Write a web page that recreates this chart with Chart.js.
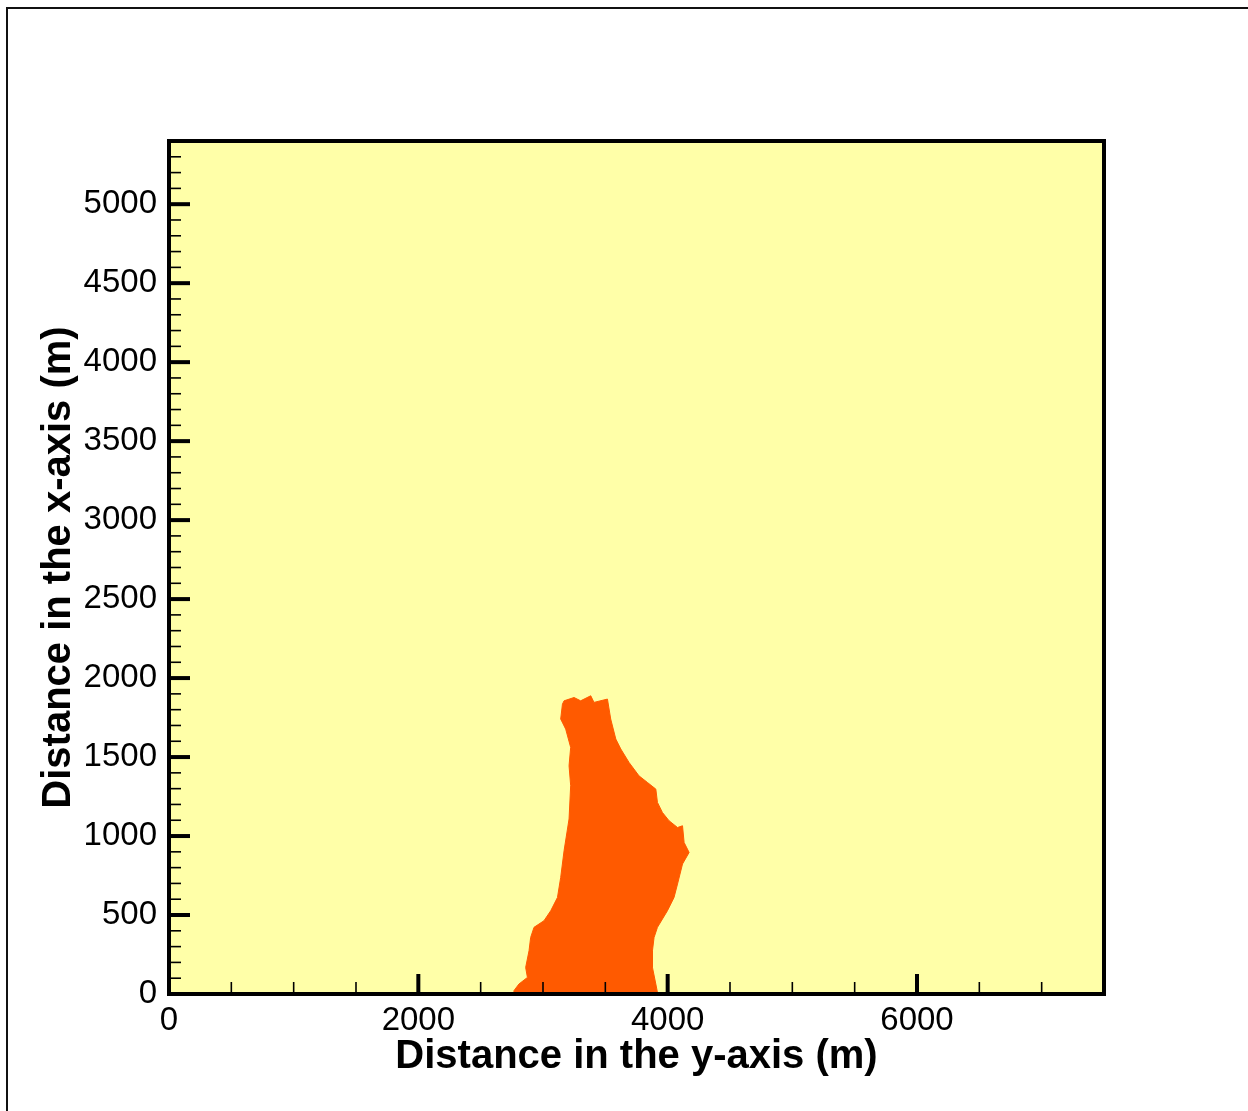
<!DOCTYPE html>
<html>
<head>
<meta charset="utf-8">
<script src="https://cdn.jsdelivr.net/npm/chart.js@4/dist/chart.umd.min.js"></script>
<style>
  html, body { margin: 0; padding: 0; background: #ffffff; }
  #wrap { width: 1248px; height: 1111px; }
</style>
</head>
<body>
<div id="wrap"><canvas id="c" width="1248" height="1111"></canvas></div>
<script>
// Outline of the orange region (x = distance along y-axis, y = distance along x-axis), metres
const shapeX = [2760, 2767, 2807, 2875, 2861, 2888, 2901, 2928, 3008, 3062, 3116, 3142, 3169, 3209, 3222, 3209, 3222, 3182, 3142, 3156, 3169, 3249, 3302, 3383, 3409, 3517, 3543, 3584, 3624, 3690, 3770, 3838, 3905, 3918, 3958, 4011, 4079, 4119, 4132, 4172, 4119, 4079, 4051, 3998, 3918, 3891, 3878, 3878, 3905, 3918, 3920, 2760];
const shapeY = [0, 21, 63, 105, 168, 274, 358, 422, 464, 527, 611, 738, 907, 1108, 1319, 1445, 1561, 1677, 1741, 1835, 1856, 1877, 1856, 1888, 1846, 1867, 1741, 1614, 1551, 1466, 1381, 1339, 1297, 1213, 1149, 1097, 1054, 1065, 959, 896, 823, 696, 611, 527, 422, 358, 274, 168, 63, 10, 0, 0];

const xRange = [0, 7500];
const yRange = [0, 5400];
const xLabelledTicks = [0, 2000, 4000, 6000];
const yLabelledTicks = [0, 500, 1000, 1500, 2000, 2500, 3000, 3500, 4000, 4500, 5000];
const xMinorStep = 500;
const yMinorStep = 100;

const xTitle = 'Distance in the y-axis (m)';
const yTitle = 'Distance in the x-axis (m)';

const points = shapeX.map((x, i) => ({ x: x, y: shapeY[i] }));

const FONT = "'Liberation Sans', Arial, sans-serif";
const BG = '#FFFFA8';
const ORANGE = '#FF5A00';

const framePlugin = {
  id: 'framePlugin',
  beforeDraw(chart) {
    const ctx = chart.ctx;
    const a = chart.chartArea;
    ctx.save();
    ctx.strokeStyle = '#111';
    ctx.lineWidth = 2;
    ctx.beginPath();
    ctx.moveTo(7, 1200);
    ctx.lineTo(7, 8);
    ctx.lineTo(1300, 8);
    ctx.stroke();
    ctx.fillStyle = BG;
    ctx.fillRect(a.left, a.top, a.right - a.left, a.bottom - a.top);
    ctx.restore();
  },
  afterDatasetsDraw(chart) {
    const ctx = chart.ctx;
    const a = chart.chartArea;
    const xs = chart.scales.x, ys = chart.scales.y;
    ctx.save();
    ctx.strokeStyle = '#000';
    xs.ticks.forEach(t => {
      const major = xLabelledTicks.includes(t.value);
      const px = xs.getPixelForValue(t.value);
      ctx.lineWidth = major ? 4 : 1.6;
      ctx.beginPath();
      ctx.moveTo(px, a.bottom);
      ctx.lineTo(px, a.bottom - (major ? 20 : 12));
      ctx.stroke();
    });
    ys.ticks.forEach(t => {
      const major = yLabelledTicks.includes(t.value);
      const py = ys.getPixelForValue(t.value);
      ctx.lineWidth = major ? 4 : 1.6;
      ctx.beginPath();
      ctx.moveTo(a.left, py);
      ctx.lineTo(a.left + (major ? 21 : 12), py);
      ctx.stroke();
    });
    ctx.lineWidth = 4;
    ctx.strokeRect(a.left, a.top, a.right - a.left, a.bottom - a.top);
    ctx.restore();
  }
};

new Chart(document.getElementById('c'), {
  type: 'scatter',
  data: {
    datasets: [{
      data: points,
      showLine: true,
      fill: 'shape',
      tension: 0,
      pointRadius: 0,
      borderWidth: 1,
      borderColor: ORANGE,
      backgroundColor: ORANGE
    }]
  },
  options: {
    responsive: false,
    animation: false,
    devicePixelRatio: 1,
    layout: { padding: { left: 20, top: 141, right: 144, bottom: 30 } },
    plugins: { legend: { display: false }, tooltip: { enabled: false } },
    scales: {
      x: {
        type: 'linear',
        min: xRange[0], max: xRange[1],
        grid: { display: false, drawTicks: false },
        border: { display: false },
        ticks: {
          stepSize: xMinorStep,
          autoSkip: false,
          maxRotation: 0,
          padding: 7,
          color: '#000',
          font: { family: FONT, size: 33 },
          callback: v => xLabelledTicks.includes(v) ? String(v) : ''
        },
        title: {
          display: true, text: xTitle, color: '#000',
          font: { family: FONT, size: 40, weight: 'bold' },
          padding: { top: 0, bottom: 0 }
        },
        afterFit(scale) { scale.height = 87; }
      },
      y: {
        type: 'linear',
        min: yRange[0], max: yRange[1],
        grid: { display: false, drawTicks: false },
        border: { display: false },
        ticks: {
          stepSize: yMinorStep,
          autoSkip: false,
          padding: 12,
          color: '#000',
          font: { family: FONT, size: 33 },
          callback: v => yLabelledTicks.includes(v) ? String(v) : ''
        },
        title: {
          display: true, text: yTitle, color: '#000',
          font: { family: FONT, size: 40, weight: 'bold' },
          padding: { top: 15, bottom: 0 }
        },
        afterFit(scale) { scale.width = 149; }
      }
    }
  },
  plugins: [framePlugin]
});
</script>
</body>
</html>
